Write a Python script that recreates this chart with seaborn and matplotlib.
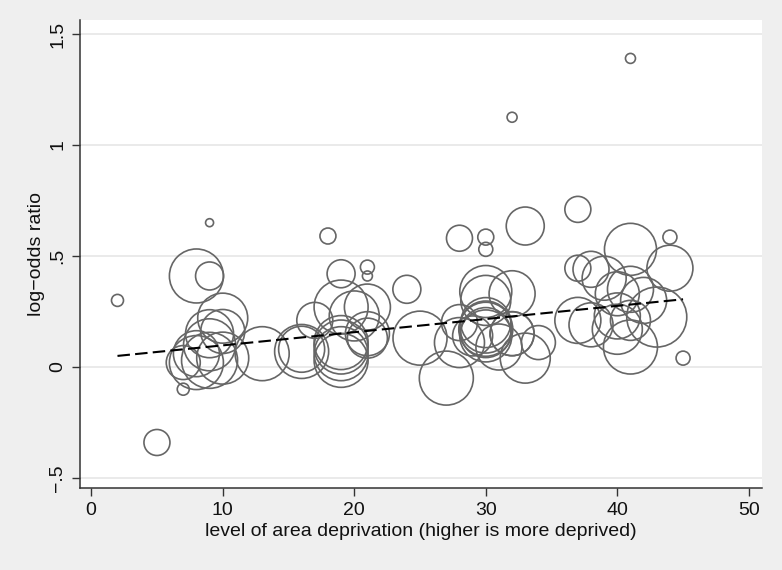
import numpy as np
import pandas as pd
import matplotlib
matplotlib.use('Agg')
import matplotlib.pyplot as plt
import seaborn as sns

# area deprivation level, log-odds ratio and bubble weight for each area
deprivation = [2, 5, 7, 9, 8, 9, 10, 10, 9, 8, 9, 10, 9, 7, 8, 13,
               16, 16, 17, 18, 19, 19, 21, 21, 20, 21, 19, 19, 19, 19, 21, 21, 24,
               25, 27, 28, 28, 28, 29, 30, 30, 30, 30, 30, 30, 30, 30, 31, 32, 32, 32, 33, 33, 34,
               30, 32, 37, 37, 37, 38, 38, 39, 40, 40, 40, 41, 41, 41, 41, 42, 43,
               44, 44, 45, 41]
log_odds = [0.30, -0.34, -0.10, 0.65, 0.41, 0.41, 0.22, 0.16, 0.15, 0.02, 0.03, 0.04, 0.10, 0.02, 0.06, 0.06,
            0.08, 0.07, 0.21, 0.59, 0.42, 0.27, 0.45, 0.41, 0.23, 0.27, 0.11, 0.09, 0.06, 0.03, 0.15, 0.13, 0.35,
            0.13, -0.05, 0.58, 0.11, 0.20, 0.14, 0.585, 0.53, 0.34, 0.30, 0.18, 0.17, 0.155, 0.14, 0.09, 0.33, 0.15, 1.125, 0.635, 0.04, 0.11,
            0.20, 0.15, 0.71, 0.21, 0.445, 0.44, 0.19, 0.40, 0.33, 0.17, 0.23, 0.53, 0.35, 0.09, 0.21, 0.30, 0.225,
            0.585, 0.445, 0.04, 1.39]
weight = [36, 169, 36, 16, 729, 196, 625, 484, 576, 729, 784, 676, 676, 289, 529, 729,
          529, 729, 324, 64, 196, 729, 49, 25, 625, 529, 729, 729, 729, 729, 484, 400, 196,
          729, 729, 169, 625, 324, 400, 64, 49, 676, 625, 676, 729, 625, 676, 529, 529, 484, 25, 361, 625, 289,
          625, 484, 169, 529, 169, 324, 484, 484, 484, 625, 529, 676, 529, 729, 400, 529, 900,
          49, 529, 49, 25]

# fitted line
fit_x = [2, 45]
fit_y = [0.05, 0.305]

df = pd.DataFrame({'deprivation': deprivation, 'log_odds': log_odds, 'weight': weight})

sns.set_style('white')
plt.rcParams['font.family'] = ['Liberation Sans Narrow', 'Liberation Sans', 'DejaVu Sans']

fig = plt.figure(figsize=(7.82, 5.70), dpi=100, facecolor='#efefef')
ax = fig.add_axes([80 / 782, 1 - 488 / 570, 682 / 782, 468 / 570])
ax.set_facecolor('white')

# marker area proportional to weight
k = (1.44 ** 2)
sns.scatterplot(data=df, x='deprivation', y='log_odds', size='weight',
                sizes=(k * min(weight), k * max(weight)), marker='o',
                facecolor='none', edgecolor='#666666', linewidth=1.2,
                legend=False, ax=ax, zorder=3)
ax.plot(fit_x, fit_y, color='black', linestyle=(0, (6, 2.5)), linewidth=1.5, zorder=4)

ax.set_xlim(-0.85, 51.0)
ax.set_ylim(-0.545, 1.563)
ax.set_xticks([0, 10, 20, 30, 40, 50])
ax.set_yticks([-0.5, 0, 0.5, 1, 1.5])
ax.set_yticklabels(['\u2212.5', '0', '.5', '1', '1.5'], rotation=90, va='center')
ax.grid(axis='y', color='#e6e6e6', linewidth=1.2)
ax.grid(axis='x', visible=False)

for side in ['top', 'right']:
    ax.spines[side].set_visible(False)
for side in ['left', 'bottom']:
    ax.spines[side].set_color('#333333')
    ax.spines[side].set_linewidth(1.1)
ax.tick_params(axis='both', direction='out', length=6, width=1.0, color='#333333',
               labelsize=14, labelcolor='#111111', left=True, bottom=True, pad=4)

ax.set_xlabel('level of area deprivation (higher is more deprived)', fontsize=14, color='#111111', labelpad=3)
ax.set_ylabel('log\u2212odds ratio', fontsize=14, color='#111111', labelpad=3)

fig.savefig('out.png', dpi=100, facecolor=fig.get_facecolor())
